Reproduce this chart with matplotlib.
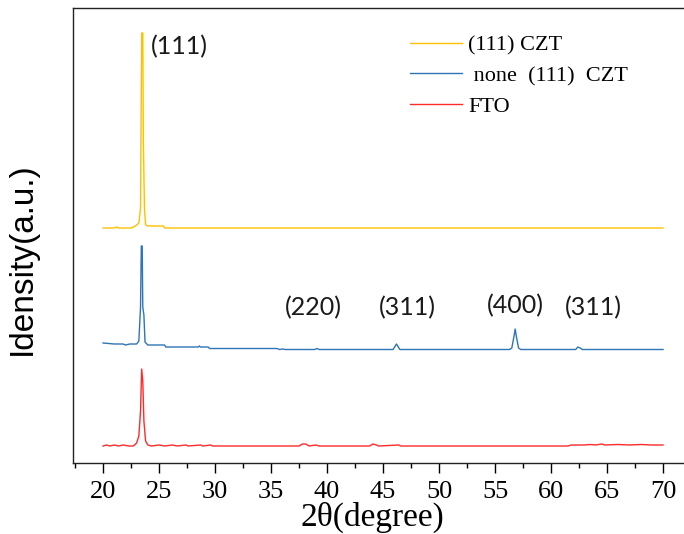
import matplotlib
matplotlib.use('Agg')
from matplotlib import pyplot as plt
from matplotlib.ticker import MultipleLocator

# 2theta / intensity (a.u., relative to each pattern's baseline)
fto_x = [20.0, 20.3, 20.6, 21.0, 21.4, 21.8, 22.3, 22.7, 23.0, 23.2, 23.35, 23.45, 23.55, 23.65,
         23.8, 24.0, 24.3, 25.0, 25.5, 26.2, 26.6, 27.4, 27.6, 28.7, 28.9, 29.6, 29.8, 31.5,
         37.5, 37.8, 38.1, 38.4, 39.0, 39.3, 43.8, 44.1, 44.4, 44.6, 46.4, 46.6, 61.5, 61.8,
         63.0, 63.5, 64.0, 64.5, 64.8, 66.0, 67.0, 68.0, 69.0, 70.0]
fto_y = [0, 1, 0, 1, 0, 1, 0, 0, 3, 10, 35, 77, 65, 25,
         5, 1, 0, 1, 0, 1, 0, 1, 0, 1, 0, 1, 0, 0,
         0, 2, 2, 0, 1, 0, 0, 2, 1, 0, 1, 0, 0, 1,
         1, 1.5, 1, 2, 1, 1.5, 1, 1.5, 1, 1]

none_x = [20.0, 21.0, 21.8, 22.0, 22.4, 23.0, 23.2, 23.35, 23.42, 23.5, 23.55, 23.65, 23.75,
          24.0, 25.5, 25.6, 28.5, 28.6, 28.7, 29.4, 29.5, 35.5, 35.8, 36.0, 36.3, 38.9, 39.1,
          39.3, 45.9, 46.2, 46.5, 56.3, 56.5, 56.7, 56.8, 56.9, 57.1, 57.3, 62.2, 62.4, 62.6,
          62.8, 70.0]
none_y = [7, 6, 6, 5, 6, 6, 9, 43, 104, 104, 43, 35, 8,
          5, 5, 3, 3, 4, 3, 3, 1.5, 1.5, 0.5, 1, 0.5, 0.5, 1.5,
          0.5, 0.5, 6, 0.5, 0.5, 2, 14, 21, 14, 2, 0.5, 0.5, 3, 2,
          0.5, 0.5]

czt_x = [20.0, 21.0, 21.2, 21.4, 22.5, 22.9, 23.2, 23.35, 23.45, 23.55, 23.6, 23.7, 23.8,
         24.0, 25.4, 25.5, 70.0]
czt_y = [0, 0, 1, 0, 0, 2, 5, 20, 195, 195, 88, 20, 3,
         2, 2, 0, 0]

peak_labels = ['(111)', '(220)', '(311)', '(400)', '(311)']
legend_labels = ['(111) CZT', ' none  (111)  CZT', 'FTO']

fig = plt.figure(figsize=(6.84, 5.34), dpi=100)
ax = fig.add_axes([73 / 684, 71 / 534, 617 / 684, 455 / 534])

ax.plot(czt_x, [v + 235 for v in czt_y], color='#FFC000', lw=1.0, label=legend_labels[0])
ax.plot(none_x, [v + 113 for v in none_y], color='#2E75B6', lw=1.0, label=legend_labels[1])
ax.plot(fto_x, [v + 17 for v in fto_y], color='#FF2A2A', lw=1.0, label=legend_labels[2])

ax.set_xlim(17.32, 72.41)
ax.set_ylim(0, 455)

ann_font = dict(family='Lato', fontsize=18, color='#1a1a1a', ha='center', va='center')
ax.text(26.8, 416, peak_labels[0], **ann_font)
ax.text(38.8, 155, peak_labels[1], **ann_font)
ax.text(47.2, 155, peak_labels[2], **ann_font)
ax.text(56.8, 157, peak_labels[3], **ann_font)
ax.text(63.8, 155, peak_labels[4], **ann_font)

ax.xaxis.set_major_locator(MultipleLocator(5))
ax.xaxis.set_minor_locator(MultipleLocator(2.5))
ax.tick_params(axis='x', which='major', direction='out', length=7, width=1, pad=6,
               labelsize=19)
ax.tick_params(axis='x', which='minor', direction='out', length=3.5, width=1)
ax.set_yticks([])
for lab in ax.get_xticklabels():
    lab.set_family('Liberation Serif')
for side in ['left', 'bottom', 'top']:
    ax.spines[side].set_linewidth(1.0)
    ax.spines[side].set_color('#222222')
ax.spines['right'].set_visible(False)

ax.set_xlabel('2θ(degree)', family='Liberation Serif', fontsize=24)
ax.xaxis.set_label_coords(0.486, -0.086)
ax.set_ylabel('Idensity(a.u.)', family='Liberation Sans', fontsize=24)
ax.yaxis.set_label_coords(-0.057, 0.45)

ax.legend(loc='upper left', bbox_to_anchor=(410 / 684, 1 - 35 / 534),
          bbox_transform=fig.transFigure, frameon=False, borderpad=0, borderaxespad=0,
          handlelength=2.35, handletextpad=0.27, labelspacing=0.45,
          prop={'family': 'Liberation Serif', 'size': 16})

fig.savefig('out.png', dpi=100)
